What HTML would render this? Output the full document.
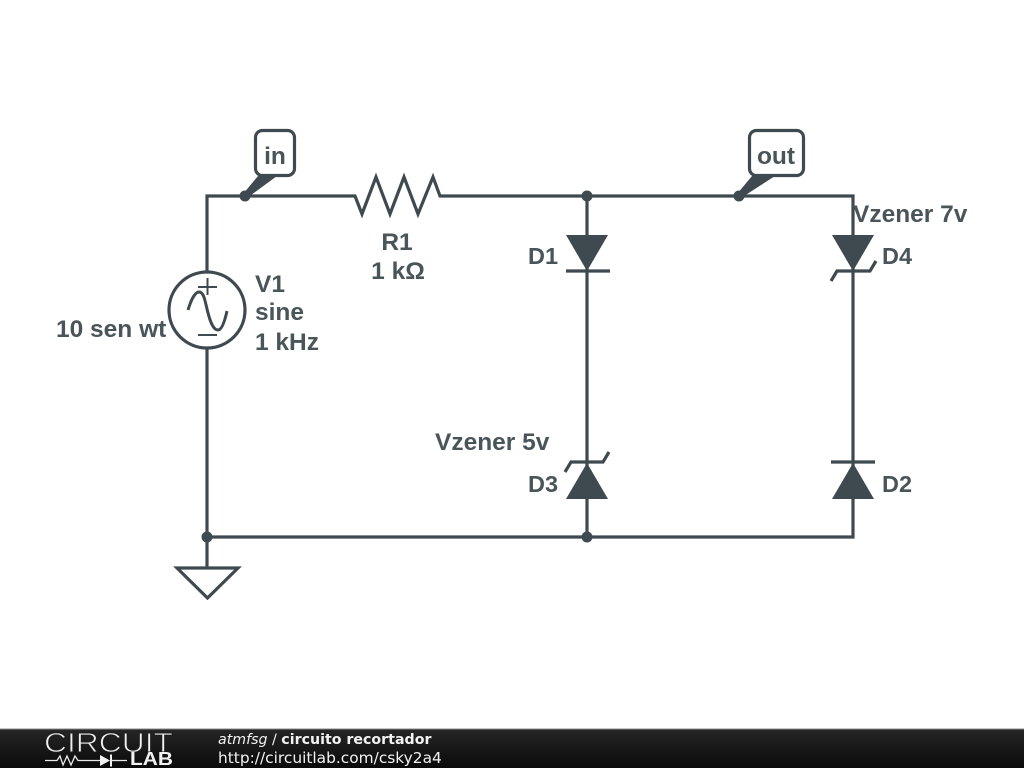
<!DOCTYPE html>
<html>
<head>
<meta charset="utf-8">
<style>
html,body{margin:0;padding:0;background:#fff;width:1024px;height:768px;overflow:hidden}
svg{display:block}
.l{font-family:"Liberation Sans",sans-serif;font-weight:bold;font-size:24.5px;fill:#4a555a}
.d{font-size:23.5px}
.f{font-family:"DejaVu Sans",sans-serif;fill:#f2f2f2}
</style>
</head>
<body>
<svg width="1024" height="768" viewBox="0 0 1024 768" xmlns="http://www.w3.org/2000/svg">
<defs>
<linearGradient id="g" x1="0" y1="0" x2="0" y2="1"><stop offset="0" stop-color="#262626"/><stop offset="1" stop-color="#0a0a0a"/></linearGradient>
</defs>
<rect width="1024" height="768" fill="#fff"/>
<g fill="none" stroke="#3f4a50" stroke-width="3.200" stroke-linejoin="miter">
<path d="M207 272V196H355L362 214L376 177L390 214L404 177L418 214L433 177L440 196H853V537H207V348"/>
<path d="M587 196V537"/>
<path d="M207 537V568"/>
<path d="M177 568H238L207.500 598Z"/>
<circle cx="207" cy="310" r="38"/>
<path d="M198 287H217M207.500 278V295M198 335H217" stroke-width="2"/>
<path d="M188 310C191 300 195 292 199 292C204 292 205 301 207.500 311C210 321 213 330 218 330C222 330 225 320 227 311" stroke-width="3"/>
<path d="M566 271H610"/>
<path d="M831 281L837 271H870L876 261"/>
<path d="M565 472L571 462H603L609 452"/>
<path d="M831 462H875"/>
<rect x="255.500" y="130.500" width="39" height="45" rx="7" fill="#fff"/>
<rect x="749.500" y="130.500" width="54" height="45" rx="7" fill="#fff"/>
</g>
<g fill="#3f4a50">
<path d="M566 235H608L587 271Z"/>
<path d="M832 235H874L853 271Z"/>
<path d="M566 499H608L587 463Z"/>
<path d="M832 499H874L853 463Z"/>
<path d="M243 194L258 176H277L247 198Z"/>
<path d="M737 194L752 176H775L741 198Z"/>
<circle cx="245" cy="196" r="5.500"/>
<circle cx="739" cy="196" r="5.500"/>
<circle cx="587" cy="196" r="5.500"/>
<circle cx="207" cy="537" r="5.500"/>
<circle cx="587" cy="537" r="5.500"/>
</g>
<text class="l" x="275" y="164" text-anchor="middle">in</text>
<text class="l" x="776" y="164" text-anchor="middle">out</text>
<text class="l" x="397" y="250" text-anchor="middle">R1</text>
<text class="l" x="398" y="279" text-anchor="middle">1 kΩ</text>
<text class="l" x="255" y="292">V1</text>
<text class="l" x="255" y="320">sine</text>
<text class="l" x="255" y="350">1 kHz</text>
<text class="l" x="56" y="337">10 sen wt</text>
<text class="l d" x="528" y="264">D1</text>
<text class="l d" x="882" y="264">D4</text>
<text class="l d" x="528" y="492">D3</text>
<text class="l d" x="882" y="492">D2</text>
<text class="l" x="853" y="222">Vzener 7v</text>
<text class="l" x="435" y="450">Vzener 5v</text>
<rect y="729" width="1024" height="39" fill="url(#g)"/>
<rect y="728.500" width="1024" height="1" fill="#8a8a8a"/>
<text x="44" y="752" font-family="Liberation Sans,sans-serif" font-size="27.500" fill="#f0f0f0" stroke="#1c1c1c" stroke-width="0.9" textLength="129" lengthAdjust="spacingAndGlyphs" style="font-weight:normal">CIRCUIT</text>
<text x="130" y="765" font-family="Liberation Sans,sans-serif" font-size="18" font-weight="bold" fill="#f2f2f2" textLength="43" lengthAdjust="spacingAndGlyphs">LAB</text>
<path d="M45 760.500H57L60 756L63 765L67 756L71 765L75 756L78 760.500H100M118 760.500H127" fill="none" stroke="#e8e8e8" stroke-width="1.300"/>
<path d="M100 755V766L110 760.500Z" fill="#f2f2f2"/>
<path d="M111 754.500V766.500" stroke="#f2f2f2" stroke-width="2"/>
<path d="M111 760.500H118" stroke="#e8e8e8" stroke-width="1.300"/>
<text class="f" font-size="14.2" x="218" y="744"><tspan font-style="italic">atmfsg</tspan> / <tspan font-weight="bold">circuito recortador</tspan></text>
<text class="f" font-size="15.4" x="218" y="763">http://circuitlab.com/csky2a4</text>
</svg>
</body>
</html>
